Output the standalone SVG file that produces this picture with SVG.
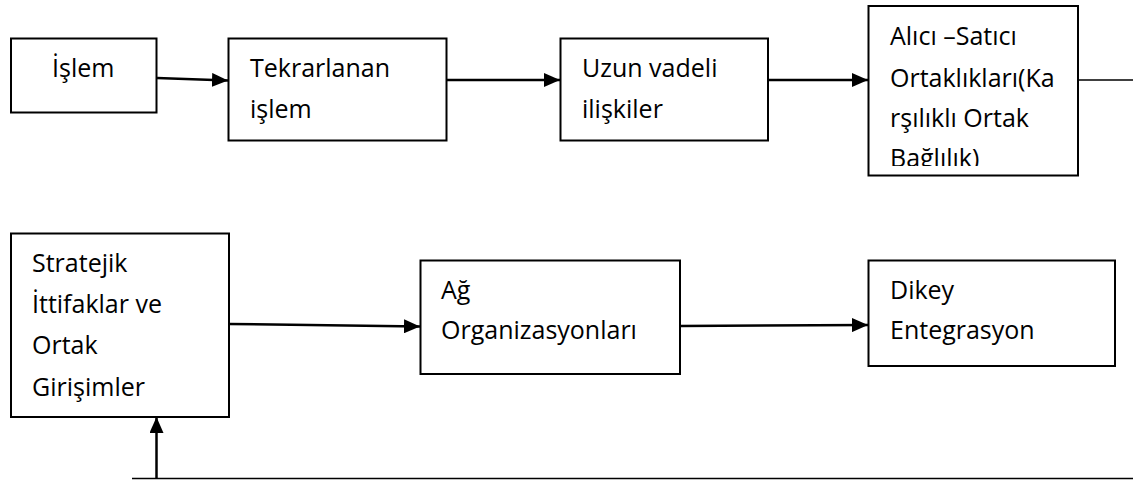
<svg xmlns="http://www.w3.org/2000/svg" width="1133" height="481" viewBox="0 0 1133 481">
  <style>
    .box { fill: #ffffff; stroke: #000000; stroke-width: 2; }
    .lbl { font-family: "Open Sans", "Liberation Sans", sans-serif; font-size: 25px; fill: #000000; }
    .conn { fill: none; stroke: #000000; stroke-width: 2.5; }
    .thin { fill: none; stroke: #000000; stroke-width: 1.6; }
  </style>
  <defs>
    <marker id="arrow" viewBox="0 0 16 14" refX="16" refY="7" markerWidth="16" markerHeight="14" markerUnits="userSpaceOnUse" orient="auto">
      <path d="M0,0 L16,7 L0,14 Z" fill="#000000"/>
    </marker>
    <clipPath id="clip-alici">
      <rect x="869" y="7" width="208" height="159"/>
    </clipPath>
  </defs>

  <!-- connectors -->
  <g id="connectors">
    <line class="conn" x1="157" y1="78" x2="228" y2="80.5" marker-end="url(#arrow)"/>
    <line class="conn" x1="447" y1="80" x2="560" y2="80" marker-end="url(#arrow)"/>
    <line class="conn" x1="768" y1="80" x2="868" y2="80" marker-end="url(#arrow)"/>
    <line class="thin" x1="1078" y1="80" x2="1133" y2="80"/>
    <line class="conn" x1="229" y1="324" x2="420" y2="326.5" marker-end="url(#arrow)"/>
    <line class="conn" x1="680" y1="326" x2="868" y2="325" marker-end="url(#arrow)"/>
    <line class="thin" x1="132" y1="478.5" x2="1133" y2="478.5"/>
    <line class="conn" x1="156.5" y1="478.5" x2="156.5" y2="417" marker-end="url(#arrow)"/>
  </g>

  <g id="islem">
    <rect class="box" x="11" y="38.5" width="145.5" height="74"/>
    <text class="lbl" x="52" y="77">İşlem</text>
  </g>

  <g id="tekrarlanan">
    <rect class="box" x="228.5" y="38.5" width="218" height="102"/>
    <text class="lbl" x="250" y="77">Tekrarlanan</text>
    <text class="lbl" x="250" y="118">işlem</text>
  </g>

  <g id="uzun-vadeli">
    <rect class="box" x="560.5" y="38.5" width="207.5" height="102"/>
    <text class="lbl" x="582" y="77">Uzun vadeli</text>
    <text class="lbl" x="582" y="118">ilişkiler</text>
  </g>

  <g id="alici-satici">
    <rect class="box" x="868.5" y="6" width="209.5" height="169.5"/>
    <g clip-path="url(#clip-alici)">
      <text class="lbl" x="890" y="45">Alıcı –Satıcı</text>
      <text class="lbl" x="890" y="87">Ortaklıkları(Ka</text>
      <text class="lbl" x="890" y="127">rşılıklı Ortak</text>
      <text class="lbl" x="890" y="167">Bağlılık)</text>
    </g>
  </g>

  <g id="stratejik">
    <rect class="box" x="11" y="233.5" width="218" height="183.5"/>
    <text class="lbl" x="32" y="272">Stratejik</text>
    <text class="lbl" x="32" y="313">İttifaklar ve</text>
    <text class="lbl" x="32" y="354">Ortak</text>
    <text class="lbl" x="32" y="396">Girişimler</text>
  </g>

  <g id="ag-organizasyonlari">
    <rect class="box" x="420.5" y="260.5" width="259.5" height="113.5"/>
    <text class="lbl" x="441" y="299">Ağ</text>
    <text class="lbl" x="441" y="339">Organizasyonları</text>
  </g>

  <g id="dikey-entegrasyon">
    <rect class="box" x="868.5" y="260.5" width="246.5" height="105.5"/>
    <text class="lbl" x="890" y="299">Dikey</text>
    <text class="lbl" x="890" y="339">Entegrasyon</text>
  </g>
</svg>
